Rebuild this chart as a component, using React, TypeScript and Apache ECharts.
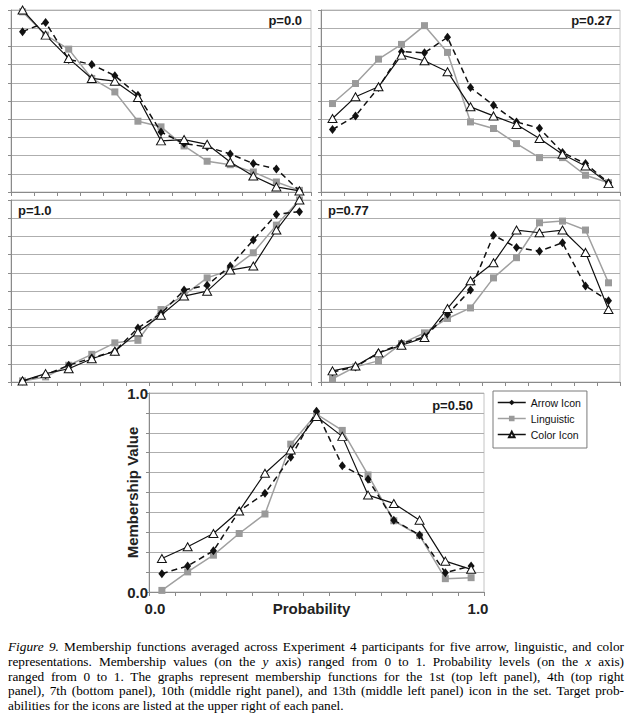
import React, { useEffect, useRef } from 'react';
import * as echarts from 'echarts';

const iconLevels = ['1', '2', '3', '4', '5', '6', '7', '8', '9', '10', '11', '12', '13'];
const seriesNames = ['Arrow Icon', 'Linguistic', 'Color Icon'];
const panelLabels = ['p=0.0', 'p=0.27', 'p=1.0', 'p=0.77', 'p=0.50'];
const yTickLabels = ['0.0', '1.0'];
const xTickLabels = ['0.0', '1.0'];
const xAxisName = 'Probability';
const yAxisName = 'Membership Value';

// p = 0.0 (top left)
const p00Arrow = [0.881, 0.932, 0.728, 0.701, 0.639, 0.532, 0.330, 0.266, 0.248, 0.209, 0.156, 0.127, 0.006];
const p00Ling = [0.99, 0.862, 0.785, 0.624, 0.55, 0.389, 0.358, 0.253, 0.169, 0.150, 0.110, 0.055, 0.009];
const p00Color = [1.0, 0.862, 0.734, 0.624, 0.609, 0.519, 0.281, 0.288, 0.262, 0.165, 0.088, 0.028, 0.006];

// p = 0.27 (top right)
const p27Arrow = [0.343, 0.418, 0.574, 0.771, 0.765, 0.850, 0.574, 0.477, 0.385, 0.350, 0.217, 0.156, 0.051];
const p27Ling = [0.486, 0.596, 0.730, 0.811, 0.914, 0.767, 0.385, 0.349, 0.266, 0.189, 0.189, 0.092, 0.051];
const p27Color = [0.404, 0.523, 0.578, 0.752, 0.721, 0.661, 0.468, 0.418, 0.371, 0.294, 0.207, 0.143, 0.046];

// p = 1.0 (middle left)
const p100Arrow = [0.006, 0.040, 0.092, 0.132, 0.169, 0.297, 0.376, 0.505, 0.532, 0.637, 0.780, 0.921, 0.936];
const p100Ling = [0.006, 0.028, 0.092, 0.152, 0.215, 0.229, 0.398, 0.477, 0.572, 0.615, 0.710, 0.862, 1.0];
const p100Color = [0.006, 0.046, 0.073, 0.128, 0.169, 0.275, 0.367, 0.472, 0.499, 0.615, 0.637, 0.835, 1.0];

// p = 0.77 (middle right)
const p77Arrow = [0.055, 0.083, 0.160, 0.211, 0.248, 0.372, 0.505, 0.807, 0.739, 0.719, 0.765, 0.528, 0.446];
const p77Ling = [0.018, 0.083, 0.116, 0.211, 0.270, 0.349, 0.407, 0.572, 0.683, 0.875, 0.884, 0.835, 0.545];
const p77Color = [0.061, 0.088, 0.160, 0.202, 0.244, 0.404, 0.556, 0.655, 0.835, 0.820, 0.835, 0.712, 0.398];

// p = 0.50 (bottom)
const p50Arrow = [0.092, 0.131, 0.207, 0.407, 0.496, 0.677, 0.908, 0.635, 0.566, 0.361, 0.286, 0.097, 0.131];
const p50Ling = [0.008, 0.101, 0.185, 0.294, 0.392, 0.743, 0.894, 0.812, 0.588, 0.358, 0.284, 0.067, 0.072];
const p50Color = [0.168, 0.227, 0.294, 0.407, 0.597, 0.714, 0.882, 0.782, 0.487, 0.445, 0.361, 0.155, 0.114];

const panelData = [
  [p00Arrow, p00Ling, p00Color],
  [p27Arrow, p27Ling, p27Color],
  [p100Arrow, p100Ling, p100Color],
  [p77Arrow, p77Ling, p77Color],
  [p50Arrow, p50Ling, p50Color],
];

const captionLines = [
  ['Figure 9.', ' Membership functions averaged across Experiment 4 participants for five arrow, linguistic, and color'],
  ['', 'representations. Membership values (on the ', 'y', ' axis) ranged from 0 to 1. Probability levels (on the ', 'x', ' axis)'],
  ['', 'ranged from 0 to 1. The graphs represent membership functions for the 1st (top left panel), 4th (top right'],
  ['', 'panel), 7th (bottom panel), 10th (middle right panel), and 13th (middle left panel) icon in the set. Target prob-'],
  ['', 'abilities for the icons are listed at the upper right of each panel.'],
];

const FONT = '"Liberation Sans", Arial, Helvetica, sans-serif';

const grids = [
  { left: 11, top: 10, width: 300, height: 182 },
  { left: 321, top: 10, width: 299, height: 182 },
  { left: 11, top: 200, width: 300, height: 182 },
  { left: 321, top: 200, width: 299, height: 182 },
  { left: 149, top: 393, width: 335, height: 199 },
];

function buildOption() {
  const gridOpts = grids.map((g) => ({
    ...g,
    show: true,
    borderColor: '#c4c4c4',
    borderWidth: 1,
    backgroundColor: 'transparent',
    containLabel: false,
  }));

  const xAxes: any[] = grids.map((_, i) => ({
    type: 'category',
    gridIndex: i,
    data: iconLevels,
    boundaryGap: true,
    axisLine: { show: true, lineStyle: { color: '#8a8a8a', width: 1 } },
    axisTick: { show: true, length: 4, lineStyle: { color: '#8a8a8a' } },
    axisLabel: { show: false },
    splitLine: { show: false },
    ...(i === 4
      ? {
          name: xAxisName,
          nameLocation: 'middle',
          nameGap: 9,
          nameTextStyle: { fontFamily: FONT, fontWeight: 'bold', fontSize: 15, color: '#222', padding: [0, 10, 0, 0] },
        }
      : {}),
  }));

  const yAxes: any[] = grids.map((_, i) => ({
    type: 'value',
    gridIndex: i,
    min: 0,
    max: 1,
    interval: 0.1,
    axisLine: { show: true, lineStyle: { color: '#8a8a8a', width: 1 } },
    axisTick: { show: true, length: 3, lineStyle: { color: '#8a8a8a' } },
    splitLine: { show: true, lineStyle: { color: '#aeaeae', width: 1 } },
    axisLabel:
      i === 4
        ? {
            show: true,
            margin: 1,
            fontFamily: FONT,
            fontWeight: 'bold',
            fontSize: 15,
            color: '#222',
            formatter: (v: number) => (Math.abs(v) < 1e-9 ? yTickLabels[0] : Math.abs(v - 1) < 1e-9 ? yTickLabels[1] : ''),
          }
        : { show: false },
  }));

  const series: any[] = [];
  panelData.forEach((arrs, i) => {
    const [arrow, ling, color] = arrs;
    series.push({
      name: seriesNames[1],
      type: 'line',
      xAxisIndex: i,
      yAxisIndex: i,
      data: ling,
      symbol: 'rect',
      symbolSize: 7,
      showAllSymbol: true,
      lineStyle: { color: '#a0a0a0', width: 1.5 },
      itemStyle: { color: '#9a9a9a', borderWidth: 0 },
      z: 2,
    });
    series.push({
      name: seriesNames[0],
      type: 'line',
      xAxisIndex: i,
      yAxisIndex: i,
      data: arrow,
      symbol: 'diamond',
      symbolSize: [7, 9],
      showAllSymbol: true,
      lineStyle: { color: '#111', width: 1.5, type: [6, 4] },
      itemStyle: { color: '#111', borderWidth: 0 },
      z: 3,
    });
    series.push({
      name: seriesNames[2],
      type: 'line',
      xAxisIndex: i,
      yAxisIndex: i,
      data: color,
      symbol: 'triangle',
      symbolSize: [9, 8],
      showAllSymbol: true,
      lineStyle: { color: '#111', width: 1.2 },
      itemStyle: { color: '#ffffff', borderColor: '#111', borderWidth: 1 },
      z: 4,
    });
  });

  const labelPos = [
    { x: grids[0].left + grids[0].width - 9, y: 20, align: 'right' },
    { x: grids[1].left + grids[1].width - 8, y: 20, align: 'right' },
    { x: grids[2].left + 7, y: 210, align: 'left' },
    { x: grids[3].left + 7, y: 210, align: 'left' },
    { x: grids[4].left + grids[4].width - 11, y: 405, align: 'right' },
  ];

  const graphic: any[] = panelLabels.map((t, i) => ({
    type: 'text',
    x: labelPos[i].x,
    y: labelPos[i].y,
    z: 10,
    style: {
      text: t,
      fontFamily: FONT,
      fontWeight: 'bold',
      fontSize: 13,
      fill: '#1a1a1a',
      align: labelPos[i].align,
      verticalAlign: 'middle',
    },
  }));
  const g4 = grids[4];
  graphic.push({
    type: 'text',
    x: g4.left + 6,
    y: g4.top + g4.height + 16,
    style: { text: xTickLabels[0], fontFamily: FONT, fontWeight: 'bold', fontSize: 15, fill: '#222', align: 'center', verticalAlign: 'middle' },
  });
  graphic.push({
    type: 'text',
    x: g4.left + g4.width - 6,
    y: g4.top + g4.height + 16,
    style: { text: xTickLabels[1], fontFamily: FONT, fontWeight: 'bold', fontSize: 15, fill: '#222', align: 'center', verticalAlign: 'middle' },
  });
  graphic.push({
    type: 'text',
    x: g4.left - 17,
    y: g4.top + g4.height / 2,
    rotation: Math.PI / 2,
    style: { text: yAxisName, fontFamily: FONT, fontWeight: 'bold', fontSize: 15, fill: '#222', align: 'center', verticalAlign: 'middle' },
  });

  return {
    animation: false,
    backgroundColor: '#ffffff',
    grid: gridOpts,
    xAxis: xAxes,
    yAxis: yAxes,
    series,
    legend: {
      data: seriesNames.map((n) => ({ name: n, itemStyle: {}, lineStyle: { type: 'solid', width: 1.5 } })),
      orient: 'vertical',
      left: 493,
      top: 391,
      itemWidth: 28,
      itemHeight: 7,
      itemGap: 5,
      padding: [6, 6, 8, 4],
      borderColor: '#7a7a7a',
      borderWidth: 1,
      backgroundColor: '#fff',
      selectedMode: false,
      textStyle: { fontFamily: FONT, fontSize: 10.5, color: '#111' },
    },
    graphic,
  };
}

export default function App() {
  const ref = useRef<HTMLDivElement>(null);
  useEffect(() => {
    if (!ref.current) return;
    const chart = echarts.init(ref.current, undefined, { renderer: 'svg' });
    chart.setOption(buildOption() as any);
    return () => chart.dispose();
  }, []);

  return (
    <div style={{ position: 'absolute', left: 0, top: 0, width: 632, height: 717, background: '#fff', overflow: 'hidden' }}>
      <div ref={ref} style={{ position: 'absolute', left: 0, top: 0, width: 632, height: 630 }} />
      <div
        style={{
          position: 'absolute',
          left: 8,
          top: 640,
          width: 616,
          fontFamily: '"Liberation Serif", "Times New Roman", serif',
          fontSize: 13.3,
          lineHeight: '14.8px',
          color: '#000',
        }}
      >
        {captionLines.map((parts, li) => (
          <div
            key={li}
            style={{
              textAlign: 'justify',
              textAlignLast: li < captionLines.length - 1 ? 'justify' : 'left',
              whiteSpace: 'nowrap',
            }}
          >
            {parts.map((p, pi) => {
              const italic = (li === 0 && pi === 0) || (li === 1 && (pi === 2 || pi === 4));
              return italic ? <i key={pi}>{p}</i> : <span key={pi}>{p}</span>;
            })}
          </div>
        ))}
      </div>
    </div>
  );
}
